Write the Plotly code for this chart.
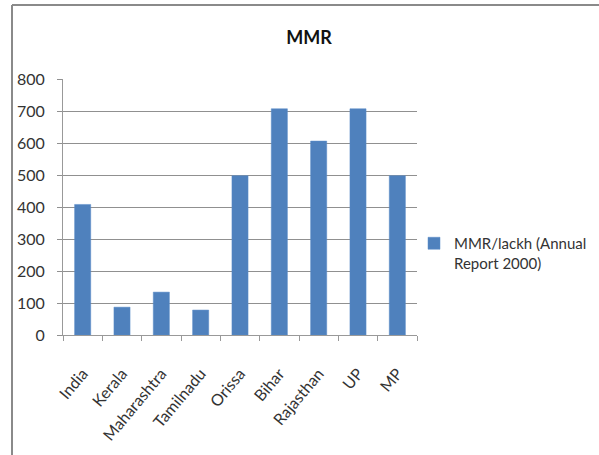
import plotly.graph_objects as go

categories = ["India", "Kerala", "Maharashtra", "Tamilnadu", "Orissa", "Bihar", "Rajasthan", "UP", "MP"]
values = [408, 87, 134, 78, 498, 707, 606, 707, 498]
series_name = "MMR/lackh (Annual<br>Report 2000)"
y_ticks = [0, 100, 200, 300, 400, 500, 600, 700, 800]

W, H = 599, 455
L, R, T, B = 63, 182, 79, 120
pw, ph = W - L - R, H - T - B

def px(x):
    return (x - L) / pw

def py(y):
    return (H - B - y) / ph

font = "Lato, 'Open Sans', sans-serif"

fig = go.Figure()
fig.add_trace(go.Bar(
    x=categories, y=values, name=series_name,
    marker=dict(color="#4F81BD", line=dict(color="#5B8CC8", width=0.5)),
    showlegend=True,
))

fig.update_layout(
    width=W, height=H,
    margin=dict(l=L, r=R, t=T, b=B, pad=0, autoexpand=False),
    paper_bgcolor="white", plot_bgcolor="white",
    bargap=0.59,
    font=dict(family=font, size=16, color="#333333"),
    title=dict(text="<b>MMR</b>", xref="container", yref="container",
               x=309 / W, y=1 - 38 / H, xanchor="center", yanchor="middle",
               font=dict(family=font, size=18, color="#111111")),
    showlegend=True,
    legend=dict(x=px(414), y=py(227), xanchor="left", yanchor="top",
                valign="top", font=dict(family=font, size=15, color="#333333"),
                bgcolor="rgba(0,0,0,0)"),
    xaxis=dict(showgrid=False, showline=True, linecolor="#999999", linewidth=1,
               ticks="outside", tickson="boundaries", ticklen=5, tickcolor="#999999",
               tickangle=-50, tickfont=dict(size=16), ticklabelstandoff=22),
    yaxis=dict(range=[0, 800], tickvals=y_ticks, showgrid=True, gridcolor="#909090",
               gridwidth=1, showline=True, linecolor="#999999", linewidth=1,
               ticks="outside", ticklen=5, tickcolor="#909090", zeroline=False,
               tickfont=dict(size=16), ticklabelstandoff=9),
    shapes=[
        dict(type="line", xref="paper", yref="paper", x0=px(12), x1=px(W + 5),
             y0=py(5), y1=py(5), line=dict(color="#8a8a8a", width=2)),
        dict(type="line", xref="paper", yref="paper", x0=px(12), x1=px(12),
             y0=py(5), y1=py(H + 5), line=dict(color="#8a8a8a", width=2)),
    ],
)

fig.write_html("out.html", config={"displayModeBar": False},
               post_script="document.body.style.margin='0';")
